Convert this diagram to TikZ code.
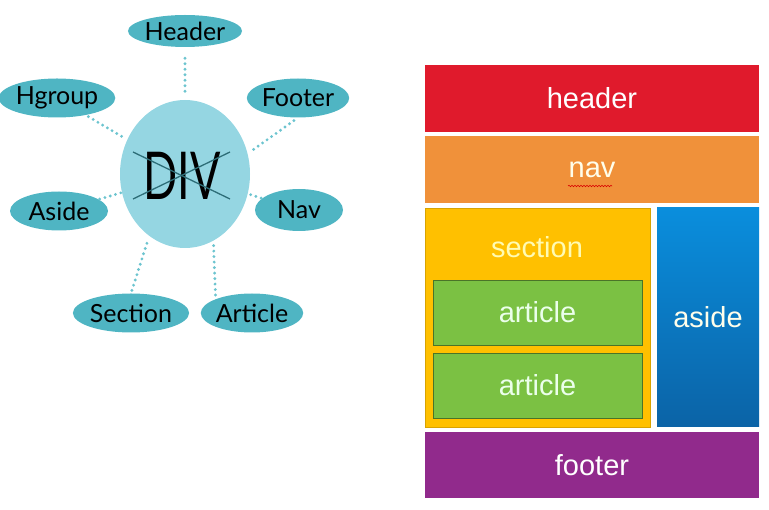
\documentclass[tikz,border=0pt]{standalone}
\usepackage{fontspec}
\setmainfont{Liberation Sans}
\newfontfamily\tagfont{Lato}
\newfontfamily\divfont[FakeStretch=0.68]{Lato}
\usetikzlibrary{shapes.geometric,decorations.pathmorphing}
\definecolor{tagteal}{HTML}{4FB5C3}
\definecolor{divteal}{HTML}{95D6E2}
\definecolor{dotteal}{HTML}{6CC4CF}
\definecolor{crossteal}{HTML}{2E6E78}
\definecolor{hdrred}{HTML}{E01A2C}
\definecolor{navorange}{HTML}{F0913A}
\definecolor{secyellow}{HTML}{FFC000}
\definecolor{artgreen}{HTML}{7BC143}
\definecolor{asdtop}{HTML}{0A8EDD}
\definecolor{asdbot}{HTML}{0B63A6}
\definecolor{ftrpurple}{HTML}{912A8C}
\tikzset{
  tag/.style={ellipse, fill=tagteal, inner sep=0pt, minimum width=98pt,
    minimum height=39pt, font=\tagfont\fontsize{25}{25}\selectfont},
  link/.style={draw=dotteal, line width=3.2pt, line cap=round,
    dash pattern=on 0pt off 5.5pt},
  block/.style={rectangle, inner sep=0pt, minimum width=334pt,
    minimum height=67pt, text=white, font=\fontsize{29}{29}\selectfont},
}
\begin{document}
\begin{tikzpicture}[x=1pt, y=-1pt]
  \useasboundingbox (0,0) rectangle (769,510);

  % left: the div and its replacements
  \node[ellipse, fill=divteal, inner sep=0pt, minimum width=130pt,
    minimum height=148pt] (div) at (185,174) {};
  \node[font=\divfont\fontsize{66}{66}\selectfont] (divtxt) at (182,176) {DIV};
  \draw[crossteal, line width=1.3pt] (133,152) -- (230,199);
  \draw[crossteal, line width=1.3pt] (133,199) -- (230,152);

  \node[tag, minimum width=100pt, minimum height=32pt] (hdr) at (185,31) {Header};
  \node[tag, minimum width=102pt] (hgr) at (57,98) {Hgroup};
  \node[tag] (ftr) at (298,98) {Footer};
  \node[tag] (asd) at (59,211) {Aside};
  \node[tag, minimum width=88pt, minimum height=42pt] (navtag) at (299,210) {Nav};
  \node[tag] (sec) at (131,313) {Section};
  \node[tag] (art) at (252,313) {Article};

  \draw[link, shorten <=11pt, shorten >=5pt] (hdr.south) -- (div.north);
  \draw[link, shorten <=3pt, shorten >=3pt] (hgr) -- (div);
  \draw[link, shorten <=5pt, shorten >=5pt] (ftr.south) -- (div.18);
  \draw[link, shorten <=1pt, shorten >=1pt] (asd) -- (div);
  \draw[link, shorten <=1pt, shorten >=1pt] (navtag) -- (div);
  \draw[link, shorten <=3pt, shorten >=3pt] (sec.north) -- (div.240);
  \draw[link, shorten <=4pt, shorten >=4pt] (art.north west) -- (div.293);

  % right: the html5 layout
  \node[block, fill=hdrred] (hdrbox) at (592,98.5) {header};
  \node[block, fill=navorange, text=white!92!yellow] (navbox) at (592,169.5) {nav};
  \draw[red!85!black, line width=0.6pt, decorate,
    decoration={snake, amplitude=0.7pt, segment length=3pt}] (568,186) -- (612,186);
  \node[block, fill=secyellow, draw=secyellow!85!black, line width=0.6pt,
    minimum width=225pt, minimum height=219pt] (secbox) at (537.5,317.5) {};
  \node[font=\fontsize{29}{29}\selectfont, text=yellow!30!white] (sectxt) at (537,247) {section};
  \node[block, fill=artgreen, draw=artgreen!60!black, line width=0.8pt,
    minimum width=209pt, minimum height=65pt, text=green!8!white] (art1) at (537.5,312.5) {article};
  \node[block, fill=artgreen, draw=artgreen!60!black, line width=0.8pt,
    minimum width=209pt, minimum height=65pt, text=green!8!white] (art2) at (537.5,385.5) {article};
  \node[block, top color=asdtop, bottom color=asdbot, minimum width=102pt,
    minimum height=219pt, text=yellow!8!white] (asdbox) at (708,317.5) {aside};
  \node[block, fill=ftrpurple, minimum height=66pt] (ftrbox) at (592,465) {footer};
\end{tikzpicture}
\end{document}
